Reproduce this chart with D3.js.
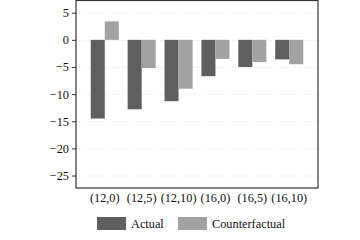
<!DOCTYPE html>
<html>
<head>
<meta charset="utf-8">
<script src="https://cdn.jsdelivr.net/npm/d3@7"></script>
<style>
  body { margin: 0; background: #fff; }
  svg { display: block; font-family: "Liberation Serif", "Times New Roman", serif; }
</style>
</head>
<body>
<div id="chart"></div>
<script>
// categories and series
const categories = ['(12,0)', '(12,5)', '(12,10)', '(16,0)', '(16,5)', '(16,10)'];
const seriesNames = ['Actual', 'Counterfactual'];
const actual = [-14.5, -12.8, -11.3, -6.7, -5.0, -3.6];
const counterfactual = [3.4, -5.2, -9.0, -3.5, -4.1, -4.5];
const yTicks = [5, 0, -5, -10, -15, -20, -25];
const colors = ['#5f5f5f', '#a2a2a2'];

const width = 360, height = 240;
const box = { left: 76, right: 318, top: 0.5, bottom: 188 };

const svg = d3.select('#chart').append('svg')
    .attr('width', width)
    .attr('height', height);

const y = d3.scaleLinear().domain([7.25, -27.3]).range([box.top, box.bottom]);
const x0 = d3.scaleBand().domain(categories).range([box.left, box.right])
    .paddingInner(0.24).paddingOuter(0.4);
const x1 = d3.scaleBand().domain(seriesNames).range([0, x0.bandwidth()]);

// grid
svg.append('g')
    .selectAll('line')
    .data(yTicks)
    .join('line')
    .attr('x1', box.left).attr('x2', box.right)
    .attr('y1', d => y(d) + 0.5).attr('y2', d => y(d) + 0.5)
    .attr('stroke', '#dcdcdc')
    .attr('stroke-width', 0.8)
    .attr('stroke-dasharray', '1,2');

// bars
const data = categories.map((c, i) => ({ cat: c, vals: [actual[i], counterfactual[i]] }));
svg.append('g')
    .selectAll('g')
    .data(data)
    .join('g')
    .attr('transform', d => `translate(${x0(d.cat)},0)`)
    .selectAll('rect')
    .data(d => d.vals.map((v, j) => ({ name: seriesNames[j], v, j })))
    .join('rect')
    .attr('x', d => x1(d.name))
    .attr('width', x1.bandwidth())
    .attr('y', d => y(Math.max(0, d.v)))
    .attr('height', d => Math.abs(y(d.v) - y(0)))
    .attr('fill', d => colors[d.j]);

// y axis
const yAxis = svg.append('g')
    .attr('transform', `translate(${box.left},0)`)
    .call(d3.axisLeft(y).tickValues(yTicks).tickSize(4).tickPadding(3)
        .tickFormat(d => d < 0 ? '\u2212' + Math.abs(d) : d));
yAxis.select('.domain').remove();
yAxis.selectAll('line').attr('stroke', '#333');
yAxis.selectAll('text').attr('font-size', 12.3).attr('fill', '#111')
    .attr('font-family', '"Liberation Serif", serif');

// frame
svg.append('rect')
    .attr('x', box.left).attr('y', box.top)
    .attr('width', box.right - box.left).attr('height', box.bottom - box.top)
    .attr('fill', 'none')
    .attr('stroke', '#333')
    .attr('stroke-width', 1.2);

// x labels
svg.append('g')
    .selectAll('text')
    .data(categories)
    .join('text')
    .attr('x', d => x0(d) + x0.bandwidth() / 2)
    .attr('y', 202)
    .attr('text-anchor', 'middle')
    .attr('font-size', 12.3)
    .attr('fill', '#111')
    .text(d => d);

// legend
const legendX = [97, 178];
const legend = svg.append('g')
    .selectAll('g')
    .data(seriesNames)
    .join('g')
    .attr('transform', (d, i) => `translate(${legendX[i]},217)`);
legend.append('rect')
    .attr('width', 29).attr('height', 13)
    .attr('fill', (d, i) => colors[i]);
legend.append('text')
    .attr('x', 34).attr('y', 11)
    .attr('font-size', 12.3)
    .attr('fill', '#111')
    .text(d => d);
</script>
</body>
</html>
